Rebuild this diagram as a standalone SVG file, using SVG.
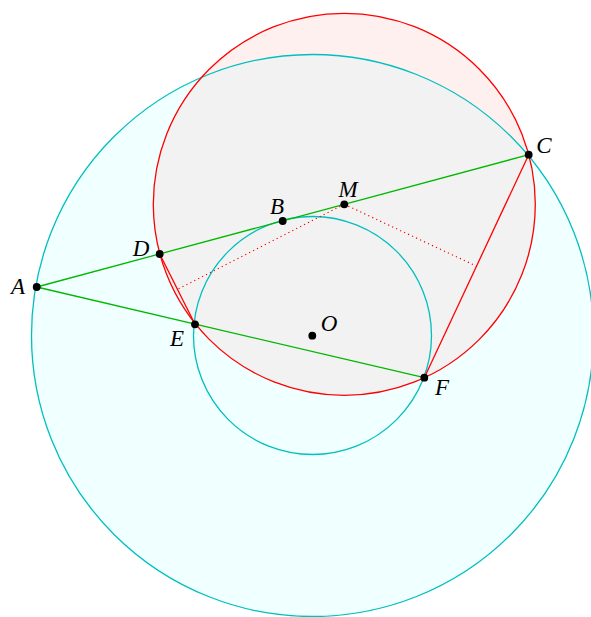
<svg xmlns="http://www.w3.org/2000/svg" width="591" height="617" viewBox="0 0 591 617">
<style>
.cy{fill:none;stroke:#00bfbf;stroke-width:1.3}
.rd{fill:none;stroke:#ff0000;stroke-width:1.3}
.gr{fill:none;stroke:#00b800;stroke-width:1.3}
.dot{fill:none;stroke:#ff0000;stroke-width:1.2;stroke-dasharray:1.2 3.2}
.pt{fill:#000}
.lb{font-family:"Liberation Serif","DejaVu Serif",serif;font-style:italic;font-size:23px;fill:#000;text-anchor:middle}
</style>
<defs>
<clipPath id="cbig"><circle cx="312.5" cy="335.5" r="281"/></clipPath>
</defs>
<rect width="591" height="617" fill="#fff"/>
<g id="fills">
<circle cx="312.5" cy="335.5" r="281" fill="#f0ffff"/>
<circle cx="344.3" cy="204.3" r="191" fill="#fff0f0"/>
<circle cx="344.3" cy="204.3" r="191" fill="#f2f2f2" clip-path="url(#cbig)"/>
</g>
<g id="connectors">
<circle id="bigCircle" class="cy" cx="312.5" cy="335.5" r="281"/>
<circle id="smallCircle" class="cy" cx="312.5" cy="335.5" r="119"/>
<circle id="redCircle" class="rd" cx="344.3" cy="204.3" r="191"/>
<line class="gr" x1="36.7" y1="287" x2="528.7" y2="154.7"/>
<line class="gr" x1="36.7" y1="287" x2="424.3" y2="377.7"/>
<line class="rd" x1="159.7" y1="254" x2="195" y2="324.3"/>
<line class="rd" x1="528.7" y1="154.7" x2="424.3" y2="377.7"/>
<line class="dot" x1="344.3" y1="204.3" x2="178" y2="289"/>
<line class="dot" x1="344.3" y1="204.3" x2="476.5" y2="266.2"/>
</g>
<g id="A"><circle class="pt" cx="36.7" cy="287" r="3.9"/><text class="lb" x="18" y="294">A</text></g>
<g id="D"><circle class="pt" cx="159.7" cy="254" r="3.9"/><text class="lb" x="141" y="256">D</text></g>
<g id="E"><circle class="pt" cx="195" cy="324.3" r="3.9"/><text class="lb" x="177" y="345.5">E</text></g>
<g id="B"><circle class="pt" cx="282.7" cy="221" r="3.9"/><text class="lb" x="277" y="214">B</text></g>
<g id="M"><circle class="pt" cx="344.3" cy="204.3" r="3.9"/><text class="lb" x="348" y="197">M</text></g>
<g id="C"><circle class="pt" cx="528.7" cy="154.7" r="3.9"/><text class="lb" x="544" y="153">C</text></g>
<g id="F"><circle class="pt" cx="424.3" cy="377.7" r="3.9"/><text class="lb" x="442" y="394.5">F</text></g>
<g id="O"><circle class="pt" cx="312.3" cy="335.7" r="3.9"/><text class="lb" x="329" y="331">O</text></g>
</svg>
